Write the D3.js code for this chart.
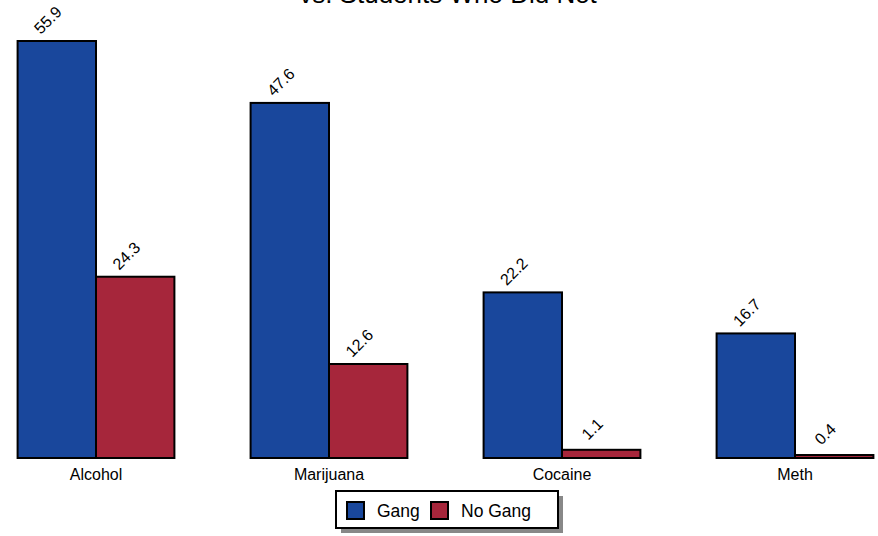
<!DOCTYPE html>
<html><head><meta charset="utf-8">
<script src="https://cdn.jsdelivr.net/npm/d3@7"></script>
<style>body{margin:0;background:#fff}svg{display:block;font-family:"Liberation Sans",Arial,sans-serif}</style>
</head><body><svg id="c" width="878" height="536"></svg>
<script>
const categories = ["Alcohol", "Marijuana", "Cocaine", "Meth"];
const seriesNames = ["Gang", "No Gang"];
const gangValues = [55.9, 47.6, 22.2, 16.7];
const noGangValues = [24.3, 12.6, 1.1, 0.4];
const colors = ["#19479c", "#a6263b"];
const titleText = "vs. Students Who Did Not";

const svg = d3.select("#c");
const baseY = 458, topY = 41;

const x0 = d3.scaleBand().domain(categories).range([-20.5, 911.5]).paddingInner(0.327).paddingOuter(0.1635);
const x1 = d3.scaleBand().domain(seriesNames).range([0, x0.bandwidth()]);
const y = d3.scaleLinear().domain([0, 55.9]).range([baseY, topY]);

svg.append("text").attr("x", 448).attr("y", 3).attr("text-anchor", "middle")
  .attr("font-size", 26).attr("fill", "#000").text(titleText);

const data = categories.map((c, i) => ({cat: c, vals: [gangValues[i], noGangValues[i]]}));

const g = svg.selectAll("g.grp").data(data).join("g").attr("class", "grp")
  .attr("transform", d => `translate(${x0(d.cat)},0)`);

g.selectAll("rect").data(d => d.vals.map((v, j) => ({v, s: seriesNames[j], j}))).join("rect")
  .attr("x", d => x1(d.s)).attr("width", x1.bandwidth())
  .attr("y", d => y(d.v)).attr("height", d => baseY - y(d.v))
  .attr("fill", d => colors[d.j]).attr("stroke", "#000").attr("stroke-width", 2);

g.selectAll("text.lbl").data(d => d.vals.map((v, j) => ({v, s: seriesNames[j], j}))).join("text")
  .attr("class", "lbl").attr("font-size", 16).attr("text-anchor", "middle").attr("fill", "#000")
  .attr("transform", d => `translate(${x1(d.s) + x1.bandwidth()/2 - 9},${y(d.v) - 21}) rotate(-45)`)
  .attr("dy", "0.35em")
  .text(d => d.v.toFixed(1));

// x axis labels
const ax = svg.append("g").attr("transform", `translate(0,${baseY})`)
  .call(d3.axisBottom(x0).tickSize(0).tickPadding(8));
ax.select(".domain").remove();
ax.attr("font-size", 16).attr("font-family", "Liberation Sans, Arial, sans-serif");
ax.selectAll("text").attr("fill", "#000").attr("dy", "0.9em");

// legend
const lg = svg.append("g").attr("transform", "translate(336,491)");
lg.append("rect").attr("x", 5).attr("y", 5).attr("width", 222).attr("height", 37).attr("fill", "#888");
lg.append("rect").attr("x", 0).attr("y", 0).attr("width", 222).attr("height", 37).attr("fill", "#fff").attr("stroke", "#000").attr("stroke-width", 2);
const legX = [11, 95];
seriesNames.forEach((s, i) => {
  lg.append("rect").attr("x", legX[i]).attr("y", 11).attr("width", 17).attr("height", 17)
    .attr("fill", colors[i]).attr("stroke", "#000").attr("stroke-width", 2);
  lg.append("text").attr("x", legX[i] + 30).attr("y", 26).attr("font-size", 17.5).attr("fill", "#000").text(s);
});
</script></body></html>
